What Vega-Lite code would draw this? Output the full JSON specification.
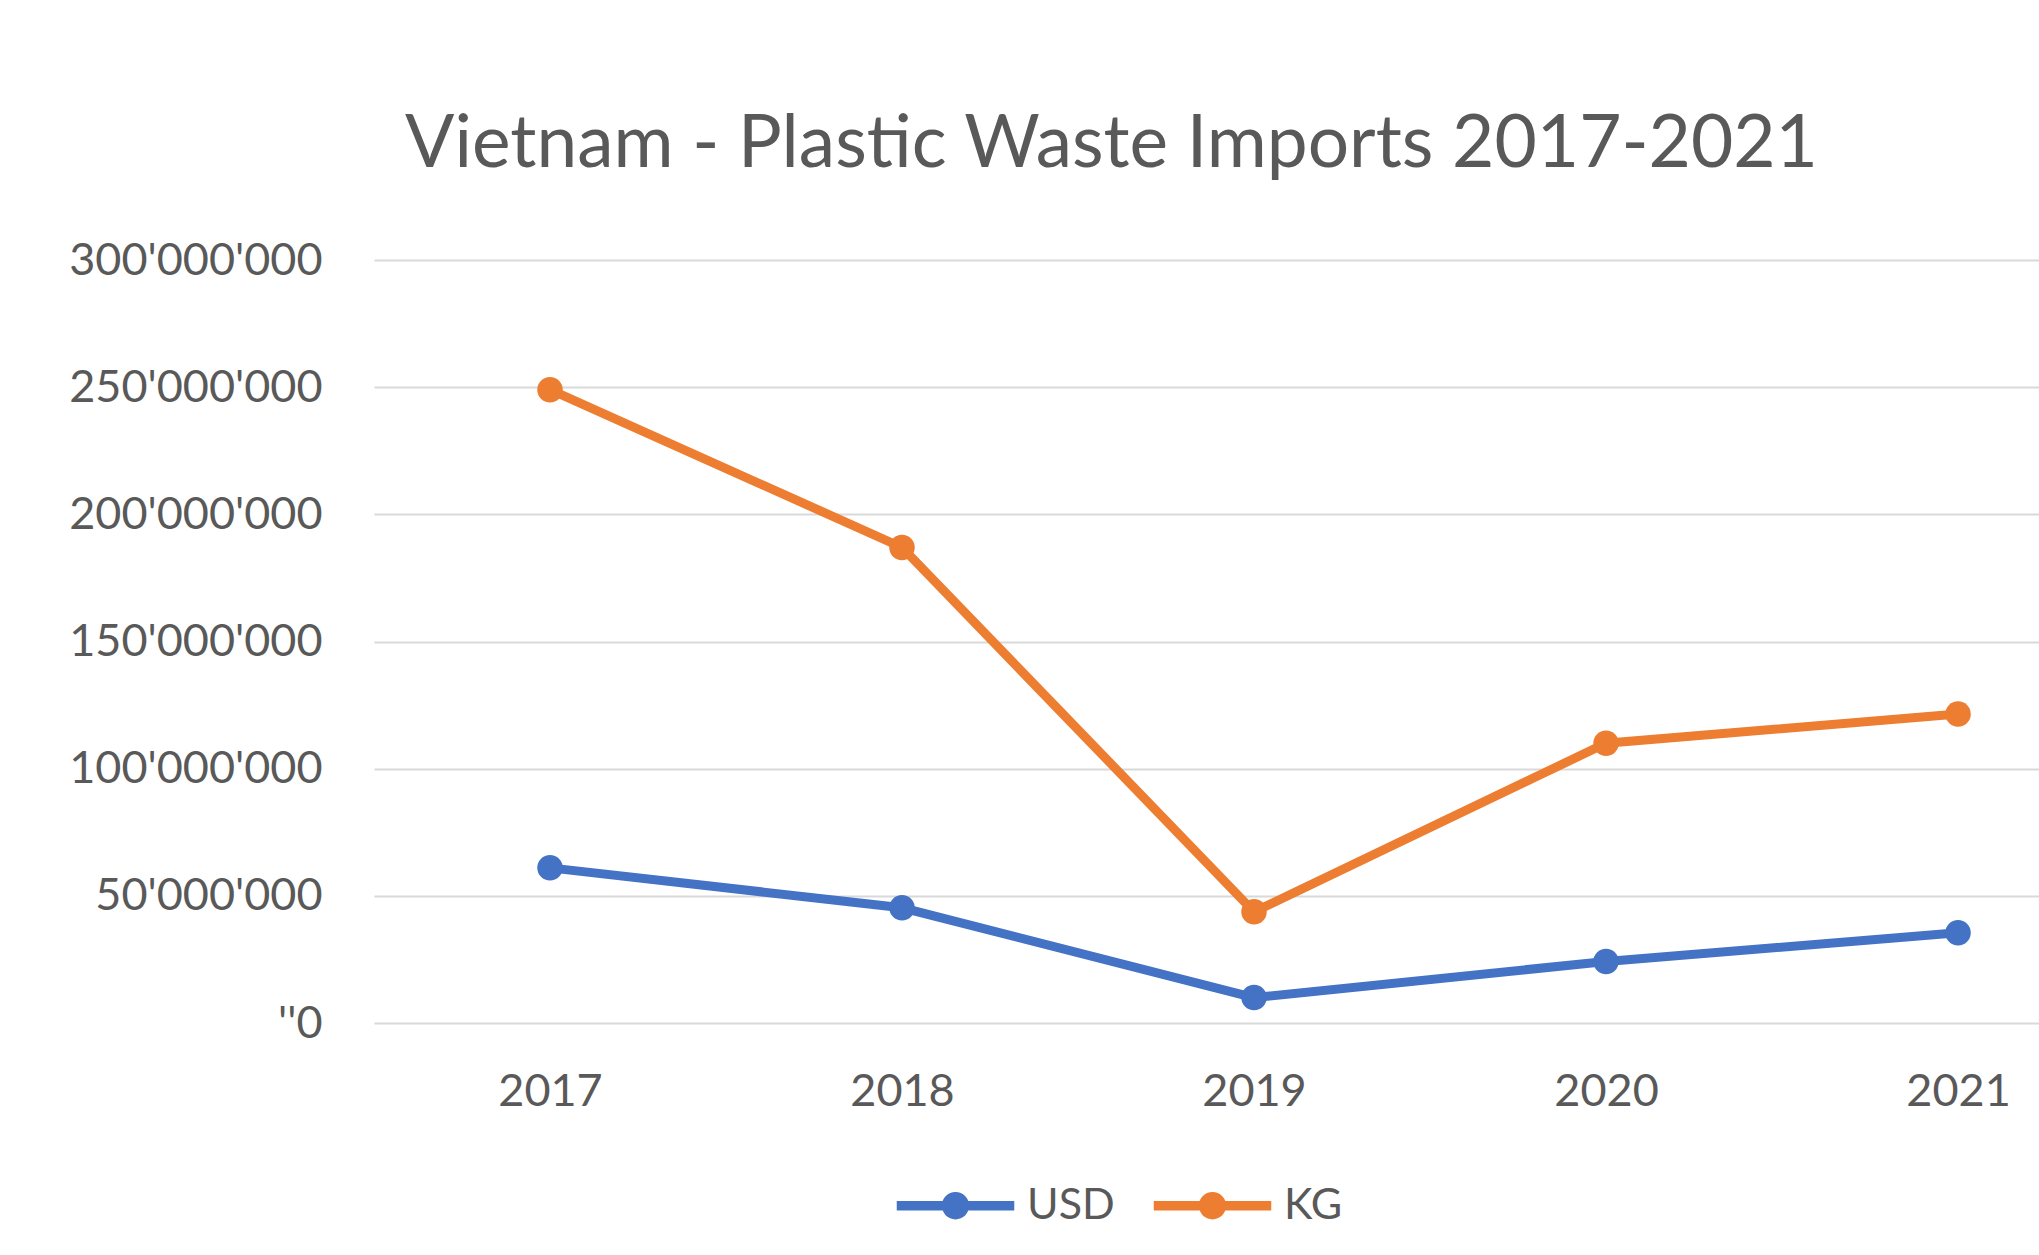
{
  "$schema": "https://vega.github.io/schema/vega-lite/v6.json",
  "autosize": {"type": "none"},
  "width": 1665,
  "height": 763,
  "padding": {"left": 374, "top": 260, "right": 0, "bottom": 232},
  "background": "white",
  "title": {
    "text": "Vietnam - Plastic Waste Imports 2017-2021",
    "font": "Lato",
    "fontSize": 73,
    "fontWeight": "normal",
    "color": "#595959",
    "anchor": "middle",
    "dx": -95,
    "offset": 56
  },
  "data": {
    "values": [
      {"Year": 2017, "Series": "USD", "Value": 61000000},
      {"Year": 2018, "Series": "USD", "Value": 45300000},
      {"Year": 2019, "Series": "USD", "Value": 10000000},
      {"Year": 2020, "Series": "USD", "Value": 24200000},
      {"Year": 2021, "Series": "USD", "Value": 35500000},
      {"Year": 2017, "Series": "KG", "Value": 249000000},
      {"Year": 2018, "Series": "KG", "Value": 187000000},
      {"Year": 2019, "Series": "KG", "Value": 43700000},
      {"Year": 2020, "Series": "KG", "Value": 110000000},
      {"Year": 2021, "Series": "KG", "Value": 121500000}
    ]
  },
  "encoding": {
    "x": {
      "field": "Year",
      "type": "quantitative",
      "scale": {"domain": [2016.5, 2021.23], "nice": false, "zero": false},
      "axis": {
        "title": null,
        "values": [2017, 2018, 2019, 2020, 2021],
        "format": "d",
        "grid": false,
        "domain": false,
        "ticks": false,
        "tickSize": 0,
        "labelPadding": 46,
        "labelFont": "Lato",
        "labelFontSize": 45,
        "labelColor": "#595959",
        "labelBaseline": "top"
      }
    },
    "y": {
      "field": "Value",
      "type": "quantitative",
      "scale": {"domain": [0, 300000000], "nice": false},
      "axis": {
        "title": null,
        "values": [0, 50000000, 100000000, 150000000, 200000000, 250000000, 300000000],
        "format": ",d",
        "labelExpr": "datum.value == 0 ? \"''0\" : datum.label",
        "grid": true,
        "gridColor": "#d9d9d9",
        "gridWidth": 2,
        "domain": false,
        "ticks": false,
        "tickSize": 0,
        "labelPadding": 52,
        "labelLimit": 0,
        "labelFont": "Lato",
        "labelFontSize": 45,
        "labelColor": "#595959"
      }
    },
    "color": {
      "field": "Series",
      "type": "nominal",
      "sort": ["USD", "KG"],
      "scale": {"domain": ["USD", "KG"], "range": ["#4472C4", "#ED7D31"]},
      "legend": {
        "title": null,
        "orient": "none",
        "direction": "horizontal",
        "legendX": 558,
        "legendY": 922,
        "padding": 0,
        "symbolType": "M-2.5,-0.2L2.5,-0.2L2.5,0.2L-2.5,0.2Z M-0.58,0A0.58,0.58 0 1,1 0.58,0A0.58,0.58 0 1,1 -0.58,0Z",
        "symbolSize": 2209,
        "symbolStrokeWidth": 0,
        "labelOffset": 48,
        "columnPadding": 38,
        "labelFont": "Lato",
        "labelFontSize": 43,
        "labelColor": "#595959",
        "encode": {
          "symbols": {"update": {"fill": {"scale": "color", "field": "value"}, "fillOpacity": {"value": 1}, "strokeWidth": {"value": 0}}}
        }
      }
    }
  },
  "layer": [
    {"mark": {"type": "line", "strokeWidth": 9}},
    {"mark": {"type": "point", "filled": true, "size": 650, "opacity": 1}}
  ],
  "config": {
    "locale": {"number": {"decimal": ".", "thousands": "'", "grouping": [3], "currency": ["$", ""]}},
    "view": {"stroke": null}
  }
}
